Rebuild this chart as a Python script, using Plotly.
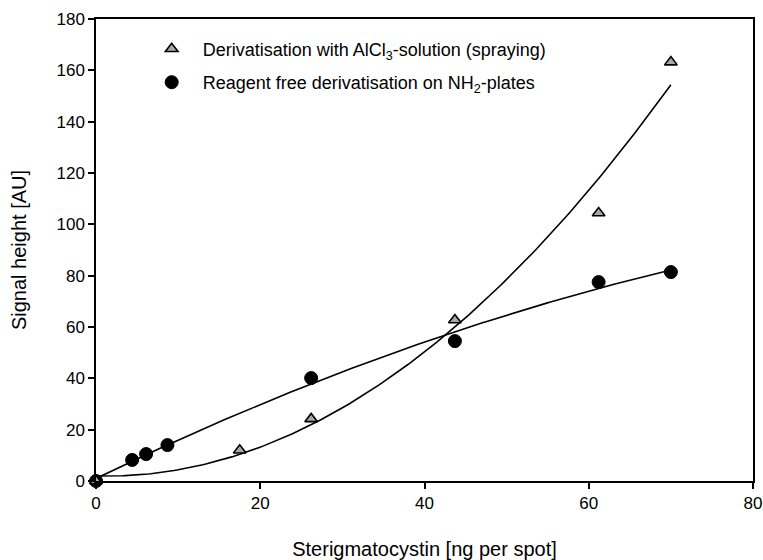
import numpy as np
import plotly.graph_objects as go

# Data
x_alcl3 = [0, 17.5, 26.2, 43.7, 61.2, 70]
y_alcl3 = [0, 12, 24.2, 62.7, 104.4, 163.2]

x_nh2 = [0, 4.4, 6.1, 8.7, 26.2, 43.7, 61.2, 70]
y_nh2 = [0, 8.2, 10.5, 14, 40.1, 54.5, 77.5, 81.4]

x_ticks = [0, 20, 40, 60, 80]
y_ticks = [0, 20, 40, 60, 80, 100, 120, 140, 160, 180]

name_alcl3 = "Derivatisation with AlCl<sub>3</sub>-solution (spraying)"
name_nh2 = "Reagent free derivatisation on NH<sub>2</sub>-plates"

# Quadratic regression curves (as in the original plot)
xf = np.linspace(0, max(x_alcl3), 200)
fit_alcl3 = np.polyval(np.polyfit(x_alcl3, y_alcl3, 2), xf)
fit_nh2 = np.polyval(np.polyfit(x_nh2, y_nh2, 2), xf)

FONT = "Liberation Sans, Arial, sans-serif"

fig = go.Figure()
fig.add_trace(go.Scatter(x=xf, y=fit_alcl3, mode="lines", line=dict(color="black", width=1.6),
                         showlegend=False, hoverinfo="skip"))
fig.add_trace(go.Scatter(x=xf, y=fit_nh2, mode="lines", line=dict(color="black", width=1.6),
                         showlegend=False, hoverinfo="skip"))
fig.add_trace(go.Scatter(x=x_nh2, y=y_nh2, mode="markers", name=name_nh2, legendgroup="b",
                         marker=dict(symbol="circle", size=13, color="black",
                                     line=dict(color="black", width=1)),
                         cliponaxis=False, legendrank=2))
fig.add_trace(go.Scatter(x=x_alcl3, y=y_alcl3, mode="markers", name=name_alcl3, legendgroup="a",
                         marker=dict(symbol="triangle-up", size=11, color="#a8a8a8",
                                     line=dict(color="black", width=1.6)),
                         cliponaxis=False, legendrank=1))

fig.update_layout(
    width=763, height=560,
    margin=dict(l=96, r=10, t=19, b=79, autoexpand=False),
    paper_bgcolor="white", plot_bgcolor="white",
    font=dict(family=FONT, size=16, color="black"),
    legend=dict(x=0.068, y=0.975, xanchor="left", yanchor="top",
                bgcolor="rgba(0,0,0,0)", tracegroupgap=7,
                font=dict(size=18), itemwidth=52),
    xaxis=dict(range=[0, 80], tickvals=x_ticks, showgrid=False, zeroline=False,
               showline=True, linecolor="black", linewidth=1.5, mirror=True,
               ticks="outside", ticklen=6, tickwidth=1.5, tickcolor="black",
               tickfont=dict(size=17), automargin=False,
               title=dict(text="Sterigmatocystin [ng per spot]", font=dict(size=20), standoff=30)),
    yaxis=dict(range=[0, 180], tickvals=y_ticks, showgrid=False, zeroline=False,
               showline=True, linecolor="black", linewidth=1.5, mirror=True,
               ticks="outside", ticklen=6, tickwidth=1.5, tickcolor="black",
               tickfont=dict(size=17), automargin=False,
               title=dict(text="Signal height [AU]", font=dict(size=20), standoff=24)),
)

fig.write_html("out.html")
